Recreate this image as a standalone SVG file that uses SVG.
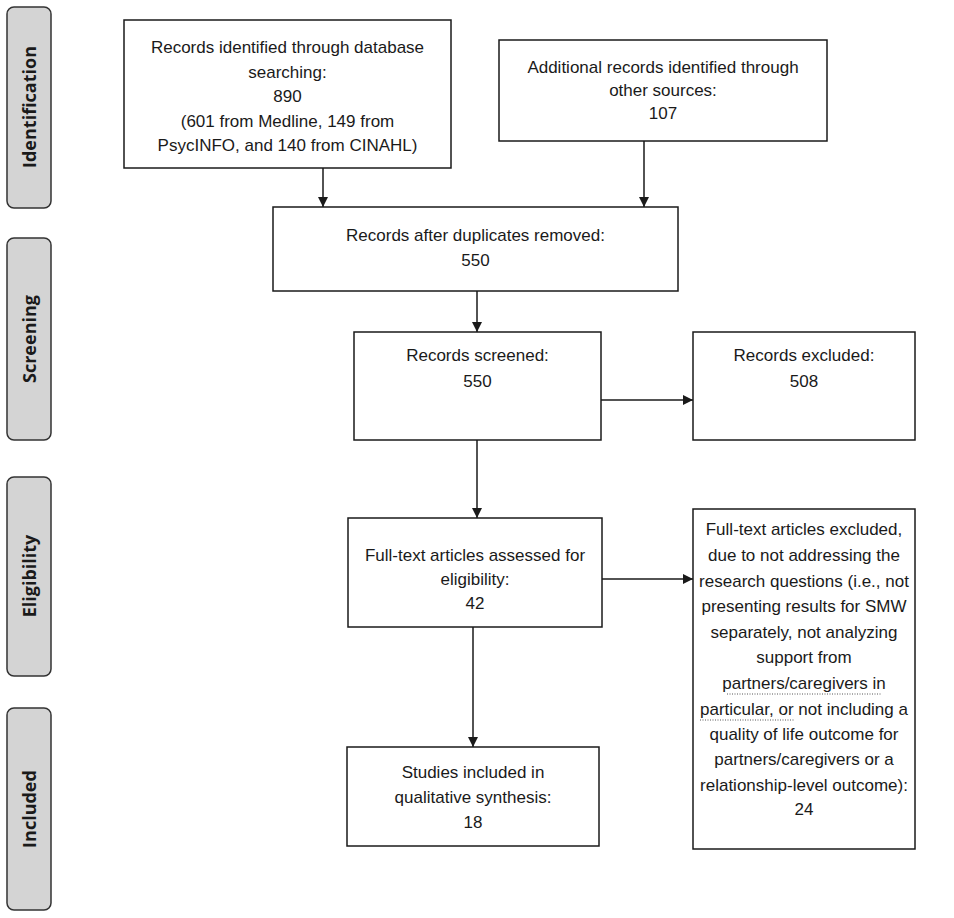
<svg xmlns="http://www.w3.org/2000/svg" width="954" height="918" viewBox="0 0 954 918">
<style>
.box{fill:#fff;stroke:#1a1a1a;stroke-width:1.5}
.side{fill:#d4d4d4;stroke:#333;stroke-width:1.5}
.t{font-family:"Liberation Sans",Arial,sans-serif;font-size:17px;fill:#1a1a1a;text-anchor:middle}
.s{font-family:"Open Sans","Liberation Sans",sans-serif;font-size:18px;font-weight:bold;fill:#1a1a1a;text-anchor:middle}
.c{stroke:#1a1a1a;stroke-width:1.5;fill:none;marker-end:url(#ah)}
.dot{stroke:#555;stroke-width:1;stroke-dasharray:1 1.5;fill:none}
</style>
<defs>
<marker id="ah" viewBox="0 0 10 10" refX="10" refY="5" markerWidth="10" markerHeight="10" markerUnits="userSpaceOnUse" orient="auto">
<path d="M0,0 L10,5 L0,10 Z" fill="#1a1a1a"/>
</marker>
</defs>
<rect width="954" height="918" fill="#fff"/>

<g id="side-identification"><rect class="side" x="7" y="7" width="44" height="201" rx="7"/><text class="s" transform="translate(35.5,107) rotate(-90)">Identification</text></g>
<g id="side-screening"><rect class="side" x="7" y="238" width="44" height="202" rx="7"/><text class="s" transform="translate(35.5,339) rotate(-90)">Screening</text></g>
<g id="side-eligibility"><rect class="side" x="7" y="477" width="44" height="199" rx="7"/><text class="s" transform="translate(35.5,576) rotate(-90)">Eligibility</text></g>
<g id="side-included"><rect class="side" x="7" y="708" width="44" height="202" rx="7"/><text class="s" transform="translate(35.5,809) rotate(-90)">Included</text></g>

<g id="connectors">
<path class="c" d="M323,168 V207"/>
<path class="c" d="M644,141 V207"/>
<path class="c" d="M477,291 V332"/>
<path class="c" d="M601,400 H693"/>
<path class="c" d="M477,440 V518"/>
<path class="c" d="M602,579 H693"/>
<path class="c" d="M473,627 V747"/>
</g>

<g id="n-db"><rect class="box" x="124" y="20" width="327" height="148"/>
<text class="t" x="287.5" y="53">Records identified through database</text>
<text class="t" x="287.5" y="77.5">searching:</text>
<text class="t" x="287.5" y="102">890</text>
<text class="t" x="287.5" y="126.5">(601 from Medline, 149 from</text>
<text class="t" x="287.5" y="151">PsycINFO, and 140 from CINAHL)</text></g>

<g id="n-other"><rect class="box" x="499" y="40" width="328" height="101"/>
<text class="t" x="663" y="73">Additional records identified through</text>
<text class="t" x="663" y="96">other sources:</text>
<text class="t" x="663" y="119">107</text></g>

<g id="n-dup"><rect class="box" x="273" y="207" width="405" height="84"/>
<text class="t" x="475.5" y="241">Records after duplicates removed:</text>
<text class="t" x="475.5" y="266">550</text></g>

<g id="n-screened"><rect class="box" x="354" y="332" width="247" height="108"/>
<text class="t" x="477.5" y="361">Records screened:</text>
<text class="t" x="477.5" y="387">550</text></g>

<g id="n-excluded"><rect class="box" x="693" y="332" width="222" height="108"/>
<text class="t" x="804" y="361">Records excluded:</text>
<text class="t" x="804" y="387">508</text></g>

<g id="n-fulltext"><rect class="box" x="348" y="518" width="254" height="109"/>
<text class="t" x="475" y="561">Full-text articles assessed for</text>
<text class="t" x="475" y="585">eligibility:</text>
<text class="t" x="475" y="609">42</text></g>

<g id="n-ftexcluded"><rect class="box" x="693" y="509" width="222" height="340"/>
<text class="t" x="804" y="535">Full-text articles excluded,</text>
<text class="t" x="804" y="561">due to not addressing the</text>
<text class="t" x="804" y="587">research questions (i.e., not</text>
<text class="t" x="804" y="612">presenting results for SMW</text>
<text class="t" x="804" y="638">separately, not analyzing</text>
<text class="t" x="804" y="663">support from</text>
<text class="t" x="804" y="689">partners/caregivers in</text>
<text class="t" x="804" y="715">particular, or not including a</text>
<text class="t" x="804" y="740">quality of life outcome for</text>
<text class="t" x="804" y="765">partners/caregivers or a</text>
<text class="t" x="804" y="791">relationship-level outcome):</text>
<text class="t" x="804" y="815">24</text>
<path class="dot" d="M727,694 H882 M700,720 H795"/></g>

<g id="n-included"><rect class="box" x="347" y="747" width="252" height="99"/>
<text class="t" x="473" y="778">Studies included in</text>
<text class="t" x="473" y="803">qualitative synthesis:</text>
<text class="t" x="473" y="828">18</text></g>
</svg>
